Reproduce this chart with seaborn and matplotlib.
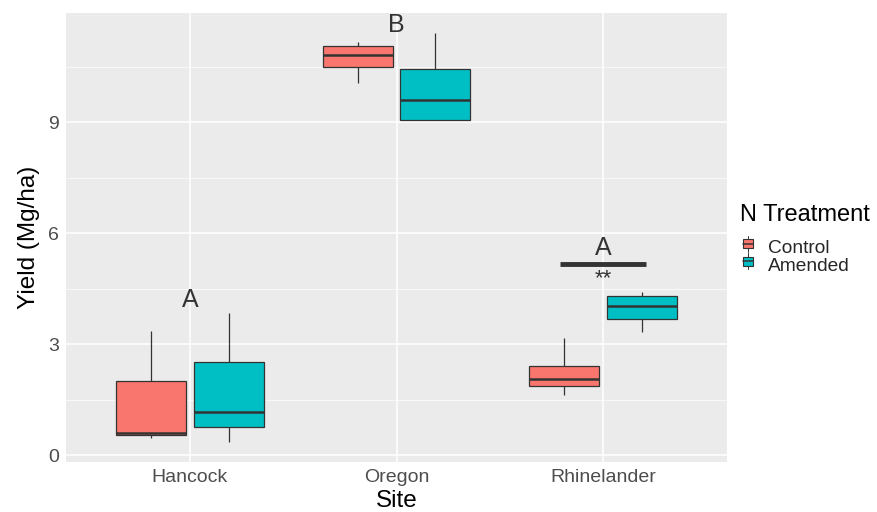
import matplotlib
matplotlib.use("Agg")
from matplotlib import pyplot as plt
from matplotlib.patches import Rectangle
from matplotlib.lines import Line2D
from matplotlib.legend_handler import HandlerBase
import seaborn as sns
import numpy as np
import pandas as pd

# 读出来的箱线图数值 (min, q1, median, q3, max)
sites = ["Hancock", "Oregon", "Rhinelander"]
treatments = ["Control", "Amended"]
colors = ["#F8766D", "#00BFC4"]
hancock_control = [0.48, 0.54, 0.61, 2.01, 3.37]
hancock_amended = [0.37, 0.77, 1.17, 2.52, 3.85]
oregon_control = [10.07, 10.49, 10.82, 11.05, 11.18]
oregon_amended = [9.07, 9.07, 9.60, 10.44, 11.41]
rhine_control = [1.64, 1.86, 2.05, 2.41, 3.17]
rhine_amended = [3.32, 3.68, 4.03, 4.30, 4.41]

letters = ["A", "B", "A"]
letter_y = [4.2, 11.63, 5.59]
sig_y = 5.16
star_y = 4.78

rows = []
groups = {
    ("Hancock", "Control"): hancock_control,
    ("Hancock", "Amended"): hancock_amended,
    ("Oregon", "Control"): oregon_control,
    ("Oregon", "Amended"): oregon_amended,
    ("Rhinelander", "Control"): rhine_control,
    ("Rhinelander", "Amended"): rhine_amended,
}
for (s, t), vals in groups.items():
    for v in vals:
        rows.append({"Site": s, "N Treatment": t, "Yield": v})
df = pd.DataFrame(rows)

sns.set_theme(style="darkgrid", rc={"axes.facecolor": "#EBEBEB",
                                    "grid.color": "white"})
plt.rcParams["font.family"] = ["Liberation Sans", "DejaVu Sans"]

fig = plt.figure(figsize=(8.77, 5.12), dpi=100)
ax = fig.add_axes([66 / 877, 1 - 462 / 512, (727 - 66) / 877, (462 - 13) / 512])

sns.boxplot(data=df, x="Site", y="Yield", hue="N Treatment",
            order=sites, hue_order=treatments,
            palette=colors, width=0.75, gap=0.1,
            whis=(0, 100), linecolor="#333333", linewidth=0.9,
            showcaps=False,
            medianprops={"linewidth": 1.8, "color": "#333333"},
            saturation=1, legend=False, ax=ax)

ax.set_xlim(-0.6, 2.6)
ax.set_ylim(-0.18, 11.95)
ax.set_yticks([0, 3, 6, 9])
ax.set_yticks([1.5, 4.5, 7.5, 10.5], minor=True)
ax.grid(True, which="major", color="white", linewidth=1.1)
ax.grid(True, which="minor", axis="y", color="white", linewidth=0.5)
for sp in ax.spines.values():
    sp.set_visible(False)
ax.tick_params(axis="both", which="major", length=3, width=0.8,
               color="#333333", labelsize=14, labelcolor="#4D4D4D", pad=2)
ax.tick_params(axis="y", which="minor", length=0)

ax.set_xlabel("Site", fontsize=17.5, color="black", labelpad=3)
ax.set_ylabel("Yield (Mg/ha)", fontsize=17.5, color="black", labelpad=6)

for i, (lt, ly) in enumerate(zip(letters, letter_y)):
    ax.text(i, ly, lt, ha="center", va="center", fontsize=18, color="#333333")

ax.plot([1.79, 2.21], [sig_y, sig_y], color="#333333", linewidth=3.5,
        solid_capstyle="butt")
ax.text(2, star_y, "**", ha="center", va="center", fontsize=16, color="#333333")


# 图例键：ggplot 式的小箱线图
class BoxKey(HandlerBase):
    def create_artists(self, legend, orig, xd, yd, w, h, fs, trans):
        cx = xd + w / 2
        bw = w * 0.8
        box = Rectangle((cx - bw / 2, yd + h * 0.2), bw, h * 0.6,
                        facecolor=orig.get_facecolor(), edgecolor="#333333",
                        linewidth=0.8, transform=trans)
        med = Line2D([cx - bw / 2, cx + bw / 2], [yd + h / 2] * 2,
                     color="#333333", linewidth=1.1, transform=trans)
        wl = Line2D([cx, cx], [yd, yd + h], color="#333333", linewidth=0.7,
                    transform=trans)
        return [wl, box, med]


handles = [Rectangle((0, 0), 1, 1, facecolor=c) for c in colors]
fig.text(740 / 877, 1 - 215 / 512, "N Treatment", ha="left", va="center",
         fontsize=17, color="black")
fig.legend(handles, treatments, loc="upper left",
           bbox_to_anchor=(728 / 877, 1 - 225 / 512), frameon=False,
           fontsize=13.8, handlelength=0.65, handleheight=0.9,
           handletextpad=0.75, labelspacing=-0.05, borderpad=0.2,
           handler_map={Rectangle: BoxKey()})

fig.savefig("out.png", dpi=100)
